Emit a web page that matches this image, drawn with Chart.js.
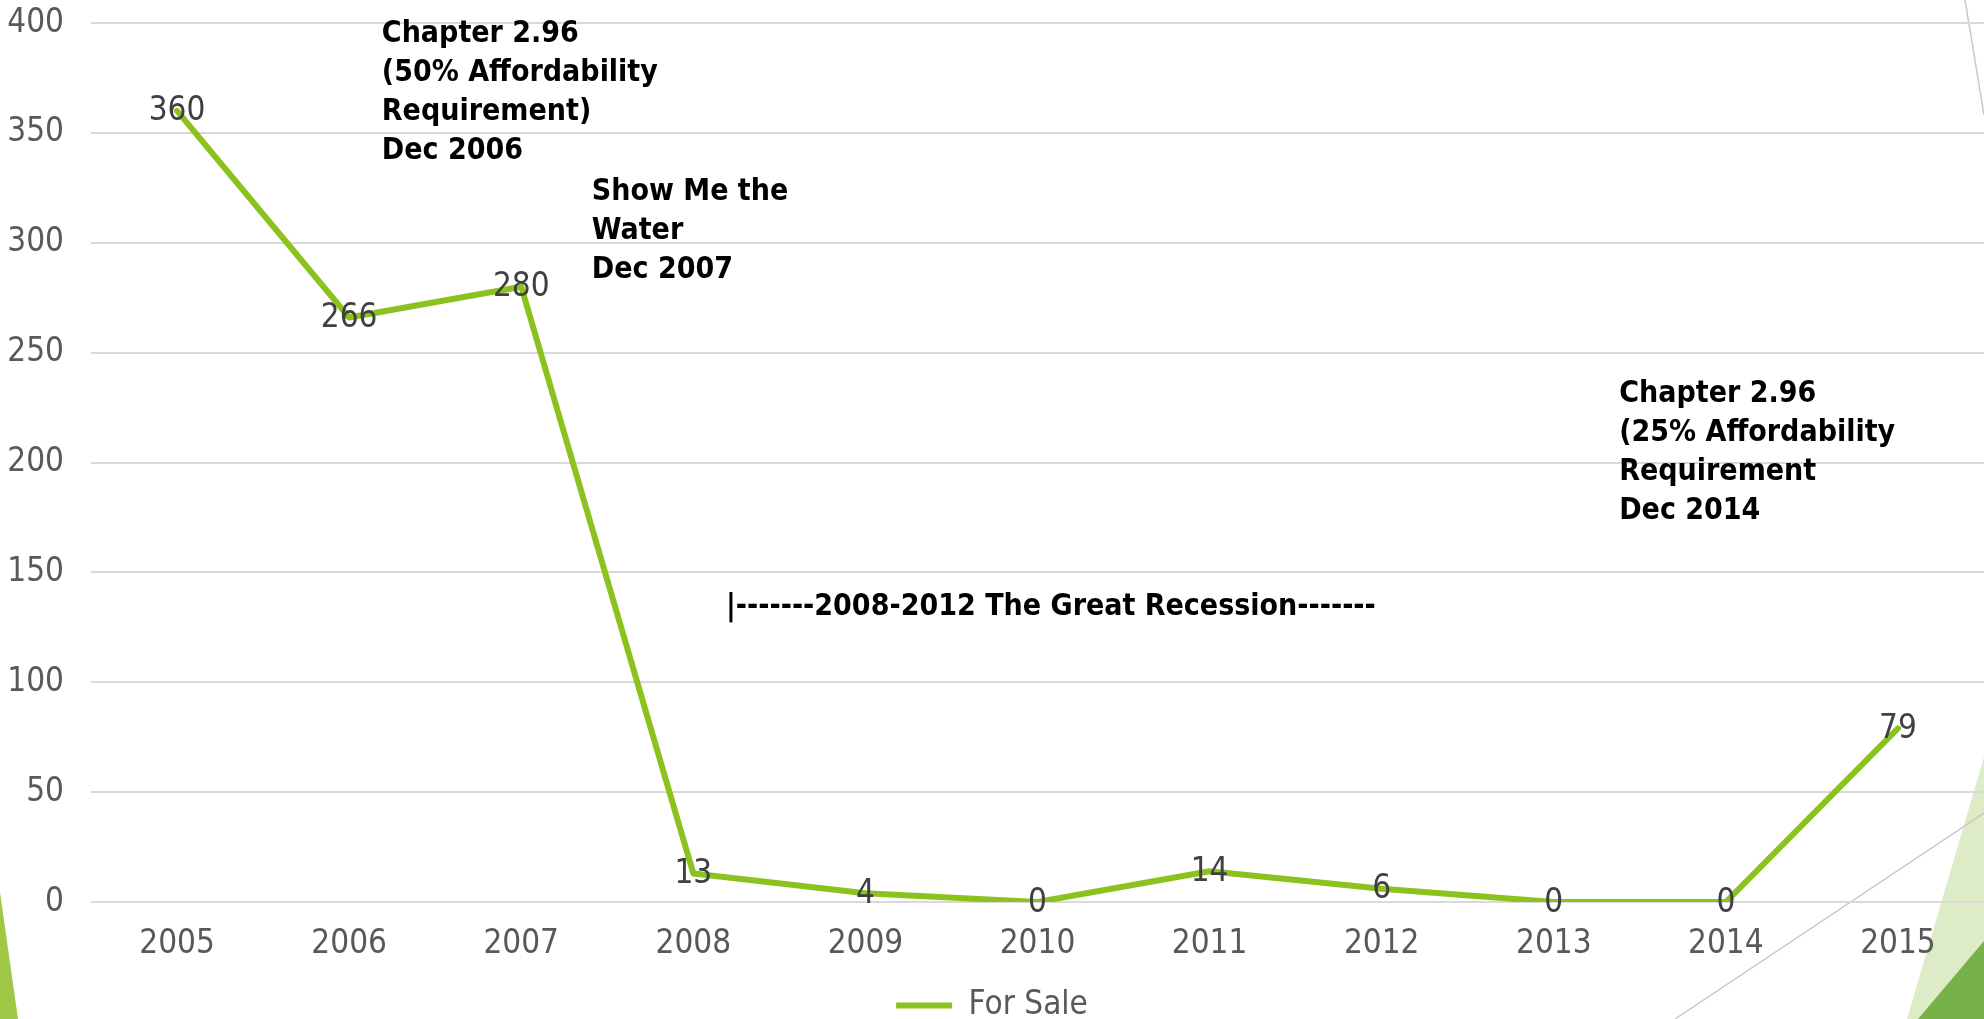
<!DOCTYPE html>
<html>
<head>
<meta charset="utf-8">
<script src="https://cdn.jsdelivr.net/npm/chart.js@4.4.1/dist/chart.umd.min.js"></script>
<style>
  html, body { margin: 0; padding: 0; background: #ffffff; }
  #contenedor { width: 1984px; height: 1019px; position: relative; }
</style>
</head>
<body>
<div id="contenedor"><canvas id="grafico"></canvas></div>
<script>
// datos
const years = ['2005', '2006', '2007', '2008', '2009', '2010', '2011', '2012', '2013', '2014', '2015'];
const forSale = [360, 266, 280, 13, 4, 0, 14, 6, 0, 0, 79];
const yMin = 0;
const yMax = 400;
const yStep = 50;

// textos de las notas
const note2006 = ['Chapter 2.96', '(50% Affordability', 'Requirement)', 'Dec 2006'];
const note2007 = ['Show Me the', 'Water', 'Dec 2007'];
const note2014 = ['Chapter 2.96', '(25% Affordability', 'Requirement', 'Dec 2014'];
const noteRecession = ['|-------2008-2012 The Great Recession-------'];

const narrowFont = "'DejaVu Sans Condensed', 'Liberation Sans', sans-serif";
const boldFont = "'DejaVu Sans Condensed', 'Liberation Sans', sans-serif";

// fondo de la diapositiva (triangulos verdes y lineas grises)
const fondo = {
  id: 'fondo',
  beforeDraw(chart) {
    const ctx = chart.ctx;
    const w = chart.width, h = chart.height;
    ctx.save();
    ctx.fillStyle = '#A0C846';
    ctx.beginPath();
    ctx.moveTo(0, h - 127); ctx.lineTo(18, h); ctx.lineTo(0, h);
    ctx.closePath(); ctx.fill();

    ctx.fillStyle = '#DDEBC6';
    ctx.beginPath();
    ctx.moveTo(w, h - 262); ctx.lineTo(w - 77, h); ctx.lineTo(w, h);
    ctx.closePath(); ctx.fill();

    ctx.fillStyle = '#77B248';
    ctx.beginPath();
    ctx.moveTo(w, h - 78); ctx.lineTo(w - 66, h); ctx.lineTo(w, h);
    ctx.closePath(); ctx.fill();

    ctx.strokeStyle = '#C8C8C8';
    ctx.lineWidth = 1.5;
    ctx.beginPath();
    ctx.moveTo(w - 309, h); ctx.lineTo(w, h - 206);
    ctx.moveTo(w - 19, 0); ctx.lineTo(w, 115);
    ctx.stroke();
    ctx.restore();
  }
};

// etiquetas de valor sobre cada punto
const etiquetas = {
  id: 'etiquetas',
  afterDatasetsDraw(chart) {
    const ctx = chart.ctx;
    const meta = chart.getDatasetMeta(0);
    ctx.save();
    ctx.font = '33px ' + narrowFont;
    ctx.fillStyle = '#404040';
    ctx.textAlign = 'center';
    ctx.textBaseline = 'middle';
    meta.data.forEach((pt, i) => {
      ctx.fillText(String(forSale[i]), pt.x, pt.y + 1);
    });
    ctx.restore();
  }
};

// notas de texto ancladas a las escalas
const notas = {
  id: 'notas',
  afterDraw(chart, args, opts) {
    const ctx = chart.ctx;
    const xs = chart.scales.x, ys = chart.scales.y;
    ctx.save();
    ctx.font = 'bold 30px ' + boldFont;
    ctx.fillStyle = '#000000';
    ctx.textAlign = 'left';
    ctx.textBaseline = 'middle';
    opts.items.forEach(n => {
      const x = xs.getPixelForValue(n.at[0]);
      const y = ys.getPixelForValue(n.at[1]);
      n.lines.forEach((t, k) => ctx.fillText(t, x, y + k * opts.lineHeight));
    });
    ctx.restore();
  }
};

const ctx = document.getElementById('grafico').getContext('2d');
new Chart(ctx, {
  type: 'line',
  data: {
    labels: years,
    datasets: [{
      label: 'For Sale',
      data: forSale,
      borderColor: '#8CC21E',
      backgroundColor: '#8CC21E',
      borderWidth: 6,
      borderCapStyle: 'round',
      borderJoinStyle: 'round',
      pointRadius: 0,
      pointHoverRadius: 0,
      tension: 0,
      fill: false
    }]
  },
  options: {
    responsive: true,
    maintainAspectRatio: false,
    animation: false,
    layout: { padding: { top: 23, left: 0, right: 0, bottom: -13 } },
    scales: {
      x: {
        offset: true,
        grid: { display: false },
        border: { display: false },
        ticks: { color: '#595959', font: { size: 33, family: narrowFont }, padding: 15, maxRotation: 0 },
        afterFit(scale) { scale.height = 87; }
      },
      y: {
        min: yMin,
        max: yMax,
        grid: { color: '#D9D9D9', lineWidth: 2, drawTicks: true, tickLength: 27, tickColor: 'rgba(0,0,0,0)' },
        border: { display: false },
        ticks: { stepSize: yStep, color: '#595959', font: { size: 33, family: narrowFont }, padding: 0 },
        afterFit(scale) { scale.width = 91; }
      }
    },
    plugins: {
      legend: {
        position: 'bottom',
        labels: {
          usePointStyle: true,
          pointStyle: 'line',
          pointStyleWidth: 56,
          padding: 0,
          color: '#595959',
          font: { size: 33, family: narrowFont }
        }
      },
      tooltip: { enabled: false },
      notas: {
        lineHeight: 39,
        items: [
          { lines: note2006, at: [1.19, 395] },
          { lines: note2007, at: [2.41, 323] },
          { lines: note2014, at: [8.38, 231] },
          { lines: noteRecession, at: [3.19, 134] }
        ]
      }
    }
  },
  plugins: [fondo, etiquetas, notas]
});
</script>
</body>
</html>
